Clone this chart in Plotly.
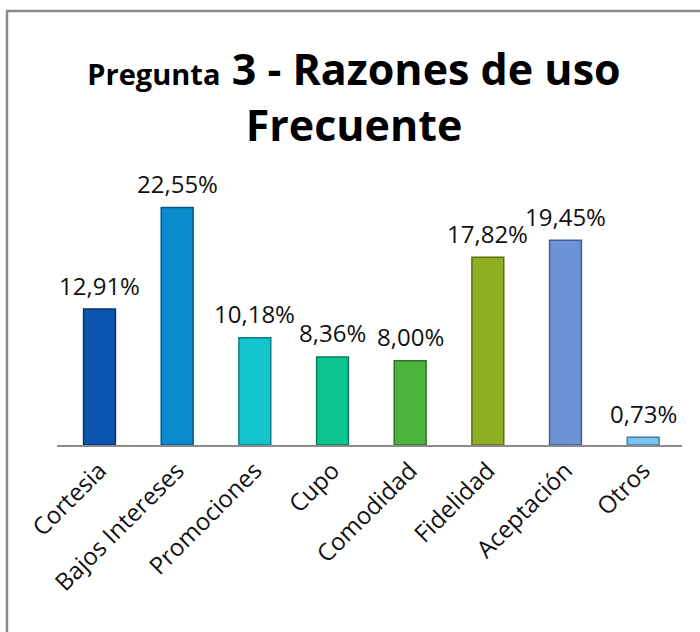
import plotly.graph_objects as go

categories = ["Cortesia", "Bajos Intereses", "Promociones", "Cupo", "Comodidad",
              "Fidelidad", "Aceptación", "Otros"]
values = [12.91, 22.55, 10.18, 8.36, 8.00, 17.82, 19.45, 0.73]
labels = ["12,91%", "22,55%", "10,18%", "8,36%", "8,00%", "17,82%", "19,45%", "0,73%"]
colors = ["#0b55b0", "#0a8ccc", "#14c4cc", "#0cc490", "#4cb43c",
          "#90ae24", "#6e92d6", "#7cc4ec"]
edge_colors = ["#06336e", "#065a86", "#0a7f86", "#077c5a", "#2e7424",
               "#5c7012", "#3f5c96", "#3f7fa8"]

FONT = "Open Sans"

W, H = 700, 632
PL, PR, PT, PB = 57, 682, 187, 445   # plot area in pixels

fig = go.Figure()
fig.add_trace(go.Bar(
    x=categories, y=values,
    marker=dict(color=colors, line=dict(color=edge_colors, width=1.5)),
    width=0.41,
    hoverinfo="skip",
))

for c, v, t in zip(categories, values, labels):
    fig.add_annotation(x=c, y=v, text=t, showarrow=False,
                       xanchor="center", yanchor="middle", yshift=24,
                       font=dict(family=FONT, size=24, color="#111111"))

fig.update_layout(
    width=W, height=H,
    margin=dict(l=PL, r=W - PR, t=PT, b=H - PB, autoexpand=False),
    paper_bgcolor="white", plot_bgcolor="white",
    showlegend=False,
    title=dict(
        text="<b><span style='font-size:29px'>Pregunta</span> 3 - Razones de uso<br>Frecuente</b>",
        x=354 / W, xanchor="center", y=1 - 85 / H, yanchor="top",
        font=dict(family=FONT, size=43, color="#000000"),
    ),
    xaxis=dict(
        showline=True, linecolor="#8c8c8c", linewidth=2,
        ticks="", tickangle=-45, automargin=False,
        tickfont=dict(family=FONT, size=24, color="#111111"),
        showgrid=False, zeroline=False,
    ),
    yaxis=dict(range=[0, 24.5], visible=False, showgrid=False, zeroline=False,
               automargin=False),
)

def px_x(x):
    return (x - PL) / (PR - PL)

def px_y(y):
    return (PB - y) / (PB - PT)

fig.add_shape(type="line", xref="paper", yref="paper",
              x0=px_x(6), x1=px_x(702), y0=px_y(11), y1=px_y(11),
              line=dict(color="#888888", width=2.5))
fig.add_shape(type="line", xref="paper", yref="paper",
              x0=px_x(7), x1=px_x(7), y0=px_y(11), y1=px_y(640),
              line=dict(color="#888888", width=2.5))

fig.write_html("out.html", config={"displayModeBar": False},
               post_script="document.body.style.margin='0';")
